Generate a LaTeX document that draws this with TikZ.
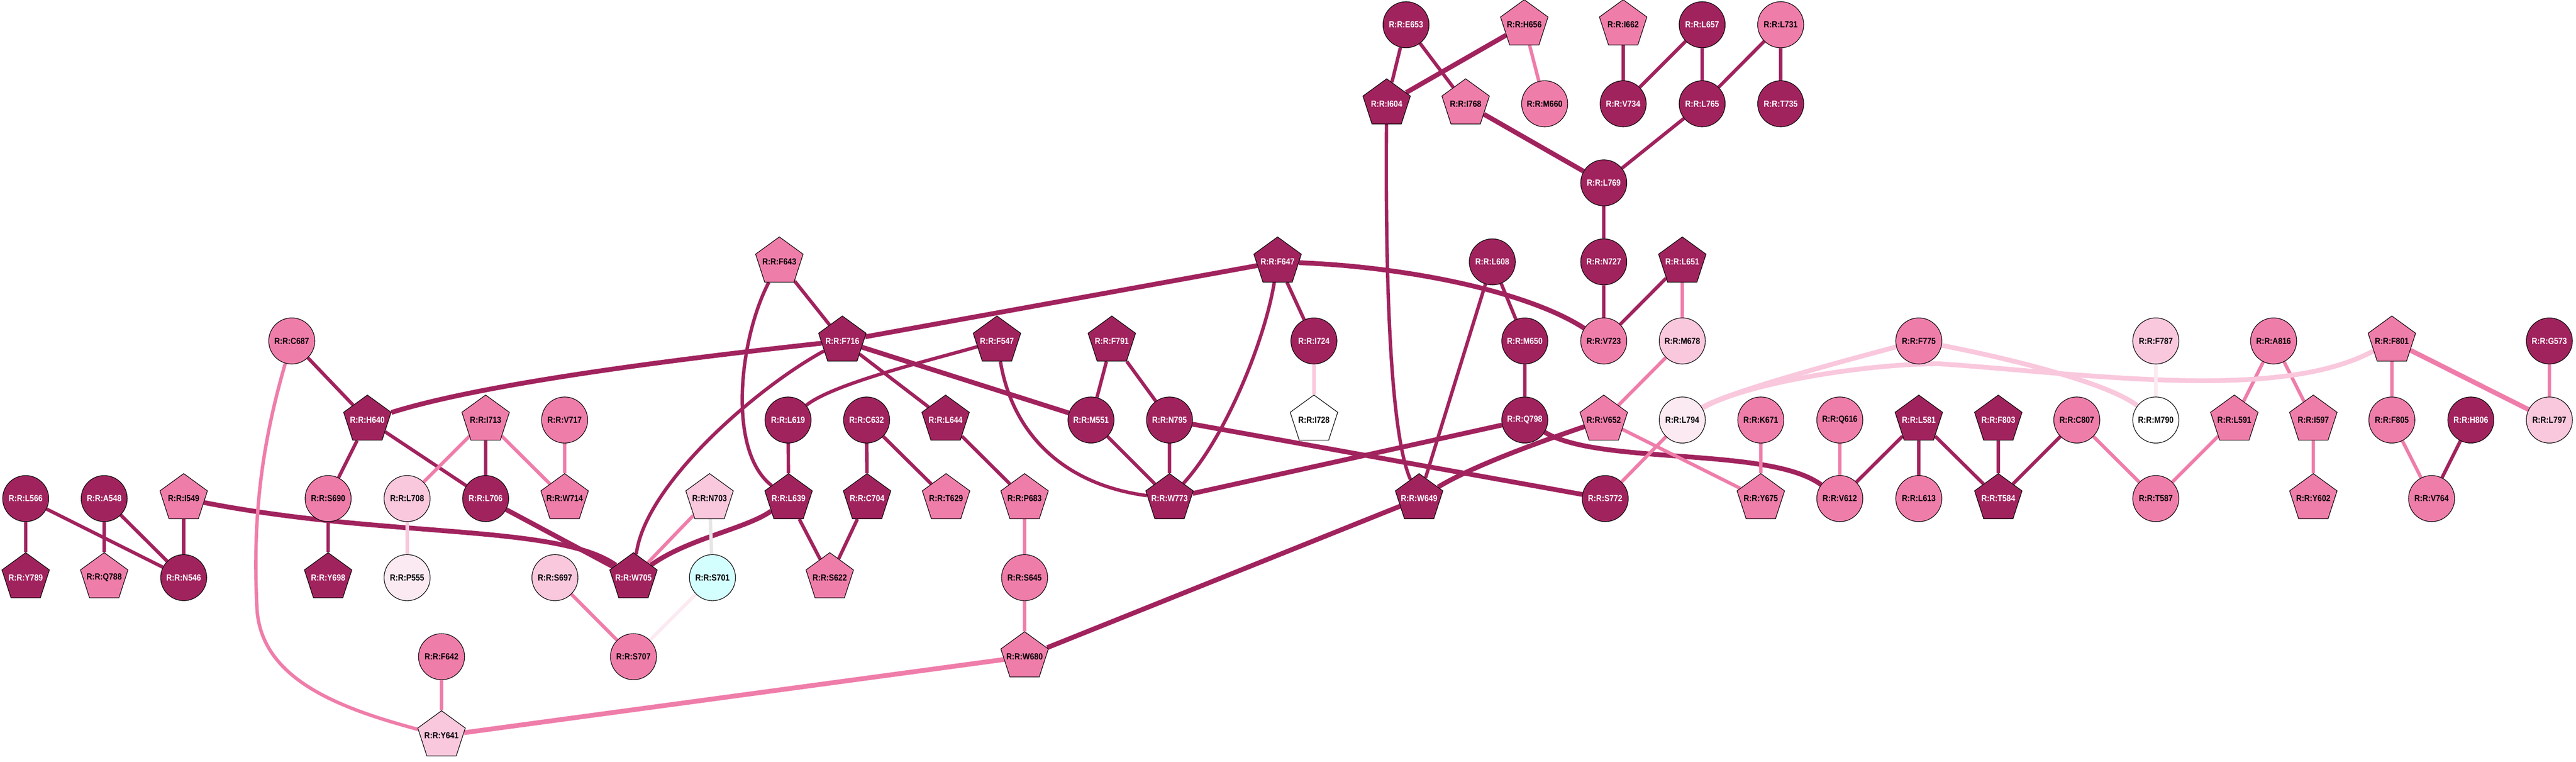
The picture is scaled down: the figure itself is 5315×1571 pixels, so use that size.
\documentclass[tikz,border=0pt]{standalone}
\usepackage{fontspec}
\newfontfamily\lblfont[FakeStretch=0.88]{Liberation Sans}
\usetikzlibrary{shapes.geometric,backgrounds}
\definecolor{cdark}{RGB}{161,35,94}
\definecolor{cmed}{RGB}{239,125,170}
\definecolor{clight}{RGB}{249,200,221}
\definecolor{cvlight}{RGB}{252,234,242}
\definecolor{ccyan}{RGB}{212,255,255}
\definecolor{cgray}{RGB}{230,230,230}
\newcommand\lbl{\lblfont\bfseries\fontsize{5.15}{6}\selectfont}
\newcommand\pl[1]{\makebox[0pt]{#1}}
\tikzset{
  res/.style={draw=black, line width=0.35pt, font=\lbl, inner sep=0pt},
  circ/.style={res, circle, minimum size=0.95cm},
  pent/.style={res, regular polygon, regular polygon sides=5, minimum size=1.03cm},
  dk/.style={fill=cdark, text=white},
  md/.style={fill=cmed},
  lt/.style={fill=clight},
  vl/.style={fill=cvlight},
  wt/.style={fill=white},
  cy/.style={fill=ccyan},
  lnk/.style={line width=2pt},
  lnkthick/.style={line width=2.8pt},
}
\begin{document}
\begin{tikzpicture}[x=0.01cm, y=-0.01cm]
\useasboundingbox (0,0) rectangle (5315,1571);
% top rows
\node[circ,dk] (E653) at (2901,51) {R:R:E653};
\node[pent,md] (H656) at (3145,51) {\pl{R:R:H656}};
\node[pent,md] (I662) at (3349,51) {\pl{R:R:I662}};
\node[circ,dk] (L657) at (3512,51) {R:R:L657};
\node[circ,md] (L731) at (3674,51) {R:R:L731};
\node[pent,dk] (I604) at (2861,214) {\pl{R:R:I604}};
\node[pent,md] (I768) at (3024,214) {\pl{R:R:I768}};
\node[circ,md] (M660) at (3187,214) {R:R:M660};
\node[circ,dk] (V734) at (3349,214) {R:R:V734};
\node[circ,dk] (L765) at (3512,214) {R:R:L765};
\node[circ,dk] (T735) at (3674,214) {R:R:T735};
\node[circ,dk] (L769) at (3309,377) {R:R:L769};
\node[pent,md] (F643) at (1608,540) {\pl{R:R:F643}};
\node[pent,dk] (F647) at (2636,540) {\pl{R:R:F647}};
\node[circ,dk] (L608) at (3079,540) {R:R:L608};
\node[circ,dk] (N727) at (3309,540) {R:R:N727};
\node[pent,dk] (L651) at (3471,540) {\pl{R:R:L651}};
% middle rows
\node[circ,md] (C687) at (602,703) {R:R:C687};
\node[pent,dk] (F716) at (1738,703) {\pl{R:R:F716}};
\node[pent,dk] (F547) at (2057,703) {\pl{R:R:F547}};
\node[pent,dk] (F791) at (2294,703) {\pl{R:R:F791}};
\node[circ,dk] (I724) at (2711,703) {R:R:I724};
\node[circ,dk] (M650) at (3146,703) {R:R:M650};
\node[circ,md] (V723) at (3309,703) {R:R:V723};
\node[circ,lt] (M678) at (3471,703) {R:R:M678};
\node[circ,md] (F775) at (3959,703) {R:R:F775};
\node[circ,lt] (F787) at (4448,703) {R:R:F787};
\node[circ,md] (A816) at (4691,703) {R:R:A816};
\node[pent,md] (F801) at (4935,703) {\pl{R:R:F801}};
\node[circ,dk] (G573) at (5260,703) {R:R:G573};
\node[pent,dk] (H640) at (758,866) {\pl{R:R:H640}};
\node[pent,md] (I713) at (1002,866) {\pl{R:R:I713}};
\node[circ,md] (V717) at (1165,866) {R:R:V717};
\node[circ,dk] (L619) at (1626,866) {R:R:L619};
\node[circ,dk] (C632) at (1788,866) {R:R:C632};
\node[pent,dk] (L644) at (1951,866) {\pl{R:R:L644}};
\node[circ,dk] (M551) at (2251,866) {R:R:M551};
\node[circ,dk] (N795) at (2413,866) {R:R:N795};
\node[pent,wt] (I728) at (2711,866) {\pl{R:R:I728}};
\node[circ,dk] (Q798) at (3146,866) {R:R:Q798};
\node[pent,md] (V652) at (3309,866) {\pl{R:R:V652}};
\node[circ,vl] (L794) at (3471,866) {R:R:L794};
\node[circ,md] (K671) at (3633,866) {R:R:K671};
\node[circ,md] (Q616) at (3796,866) {R:R:Q616};
\node[pent,dk] (L581) at (3959,866) {\pl{R:R:L581}};
\node[pent,dk] (F803) at (4123,866) {\pl{R:R:F803}};
\node[circ,md] (C807) at (4285,866) {R:R:C807};
\node[circ,wt] (M790) at (4448,866) {R:R:M790};
\node[pent,md] (L591) at (4610,866) {\pl{R:R:L591}};
\node[pent,md] (I597) at (4773,866) {\pl{R:R:I597}};
\node[circ,md] (F805) at (4935,866) {R:R:F805};
\node[circ,dk] (H806) at (5098,866) {R:R:H806};
\node[circ,lt] (L797) at (5260,866) {R:R:L797};
\node[circ,dk] (L566) at (53,1028) {R:R:L566};
\node[circ,dk] (A548) at (215,1028) {R:R:A548};
\node[pent,md] (I549) at (379,1028) {\pl{R:R:I549}};
\node[circ,md] (S690) at (677,1028) {R:R:S690};
\node[circ,lt] (L708) at (840,1028) {R:R:L708};
\node[circ,dk] (L706) at (1002,1028) {R:R:L706};
\node[pent,md] (W714) at (1165,1028) {\pl{R:R:W714}};
\node[pent,lt] (N703) at (1464,1028) {\pl{R:R:N703}};
\node[pent,dk] (L639) at (1627,1028) {\pl{R:R:L639}};
\node[pent,dk] (C704) at (1789,1028) {\pl{R:R:C704}};
\node[pent,md] (T629) at (1952,1028) {\pl{R:R:T629}};
\node[pent,md] (P683) at (2114,1028) {\pl{R:R:P683}};
\node[pent,dk] (W773) at (2413,1028) {\pl{R:R:W773}};
\node[pent,dk] (W649) at (2928,1028) {\pl{R:R:W649}};
\node[circ,dk] (S772) at (3312,1028) {R:R:S772};
\node[pent,md] (Y675) at (3633,1028) {\pl{R:R:Y675}};
\node[circ,md] (V612) at (3796,1028) {R:R:V612};
\node[circ,md] (L613) at (3959,1028) {R:R:L613};
\node[pent,dk] (T584) at (4123,1028) {\pl{R:R:T584}};
\node[circ,md] (T587) at (4448,1028) {R:R:T587};
\node[pent,md] (Y602) at (4773,1028) {\pl{R:R:Y602}};
\node[circ,md] (V764) at (5017,1028) {R:R:V764};
% bottom rows
\node[pent,dk] (Y789) at (53,1191) {\pl{R:R:Y789}};
\node[pent,md] (Q788) at (215,1191) {\pl{R:R:Q788}};
\node[circ,dk] (N546) at (379,1191) {R:R:N546};
\node[pent,dk] (Y698) at (677,1191) {\pl{R:R:Y698}};
\node[circ,vl] (P555) at (840,1191) {R:R:P555};
\node[circ,lt] (S697) at (1145,1191) {R:R:S697};
\node[pent,dk] (W705) at (1307,1191) {\pl{R:R:W705}};
\node[circ,cy] (S701) at (1470,1191) {R:R:S701};
\node[pent,md] (S622) at (1712,1191) {\pl{R:R:S622}};
\node[circ,md] (S645) at (2114,1191) {R:R:S645};
\node[circ,md] (F642) at (911,1354) {R:R:F642};
\node[circ,md] (S707) at (1307,1354) {R:R:S707};
\node[pent,md] (W680) at (2114,1354) {\pl{R:R:W680}};
\node[pent,lt] (Y641) at (911,1517) {\pl{R:R:Y641}};

\begin{scope}[on background layer]
% dark links
\draw[lnk, cdark] (L566)--(Y789) (L566)--(N546) (A548)--(Q788) (A548)--(N546) (I549)--(N546)
  (S690)--(Y698) (H640)--(S690) (H640)--(L706) (C687)--(H640) (I713)--(L706)
  (L619)--(L639) (C632)--(C704) (C632)--(T629) (C704)--(S622) (L639)--(S622)
  (L644)--(P683) (F643)--(F716) (F716)--(L644) (F791)--(M551) (F791)--(N795)
  (M551)--(W773) (N795)--(W773) (F647)--(I724) (L608)--(W649) (L608)--(M650)
  (M650)--(Q798) (N727)--(V723) (L651)--(V723) (L769)--(N727) (E653)--(I604)
  (E653)--(I768) (I662)--(V734) (L657)--(V734) (L657)--(L765) (L731)--(L765)
  (L731)--(T735) (L765)--(L769) (V612)--(L581) (L581)--(L613) (L581)--(T584)
  (F803)--(T584) (C807)--(T584) (H806)--(V764);
\draw[lnk, cdark] (F716) .. controls (1560,800) and (1330,1000) .. (W705);
\draw[lnk, cdark] (F643) .. controls (1525,700) and (1500,930) .. (L639);
\draw[lnk, cdark] (F547) .. controls (1930,740) and (1720,790) .. (L619);
\draw[lnk, cdark] (F547) .. controls (2090,900) and (2200,1000) .. (W773);
\draw[lnk, cdark] (F647) .. controls (2610,700) and (2530,900) .. (W773);
\draw[lnk, cdark] (I604) .. controls (2858,600) and (2870,900) .. (W649);
\draw[lnkthick, cdark] (F716)--(F647) (F716)--(M551) (H656)--(I604) (I768)--(L769)
  (N795)--(S772) (W773)--(Q798) (W680)--(W649) (L706)--(W705);
\draw[lnkthick, cdark] (H640) .. controls (1000,790) and (1400,740) .. (F716);
\draw[lnkthick, cdark] (L639) .. controls (1540,1090) and (1420,1110) .. (W705);
\draw[lnkthick, cdark] (I549) .. controls (800,1110) and (1150,1080) .. (W705);
\draw[lnkthick, cdark] (F647) .. controls (2900,550) and (3150,600) .. (V723);
\draw[lnkthick, cdark] (Q798) .. controls (3300,960) and (3650,920) .. (V612);
\draw[lnkthick, cdark] (V652) .. controls (3180,910) and (3040,960) .. (W649);
% pink links
\draw[lnk, cmed] (I713)--(L708) (I713)--(W714) (W714)--(V717) (S697)--(S707)
  (N703)--(W705) (F642)--(Y641) (P683)--(S645) (S645)--(W680) (H656)--(M660)
  (L651)--(M678) (M678)--(V652) (V652)--(Y675) (K671)--(Y675) (Q616)--(V612)
  (L794)--(S772) (A816)--(L591) (A816)--(I597) (L591)--(T587) (C807)--(T587)
  (I597)--(Y602) (F801)--(F805) (G573)--(L797) (F805)--(V764);
\draw[lnk, cmed] (C687) .. controls (545,900) and (520,1050) .. (530,1250)
  .. controls (535,1400) and (700,1460) .. (Y641);
\draw[lnkthick, cmed] (Y641)--(W680) (F801)--(L797);
% light links
\draw[lnk, clight] (L708)--(P555) (I724)--(I728);
\draw[lnkthick, clight] (L794) .. controls (3560,810) and (3800,745) .. (F775);
\draw[lnkthick, clight] (L794) .. controls (3600,790) and (3850,750) .. (4000,750)
  .. controls (4300,770) and (4700,830) .. (F801);
\draw[lnkthick, clight] (F775) .. controls (4150,740) and (4350,790) .. (M790);
\draw[lnk, cvlight] (S701)--(S707) (F787)--(M790);
\draw[lnk, cgray] (N703)--(S701);
\end{scope}
\end{tikzpicture}
\end{document}
